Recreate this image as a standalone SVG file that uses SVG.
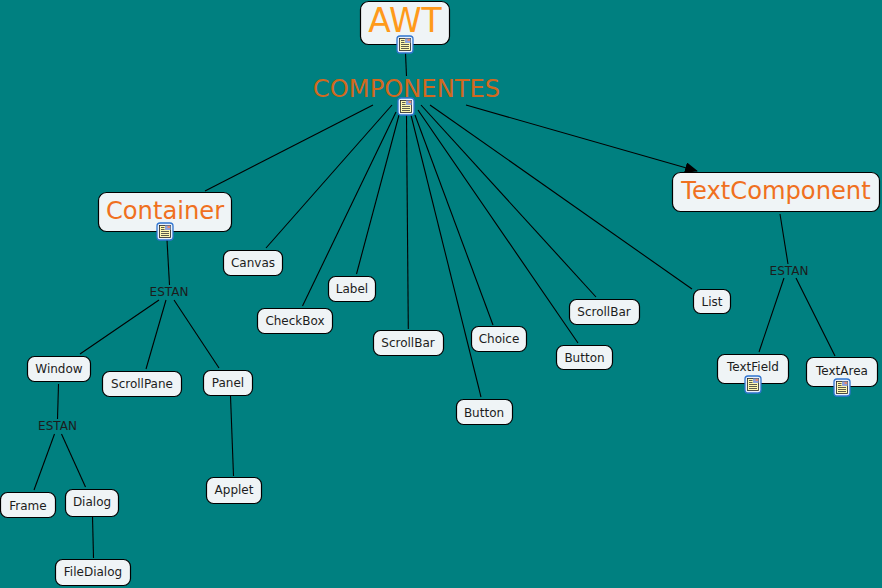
<svg xmlns="http://www.w3.org/2000/svg" width="882" height="588" viewBox="0 0 882 588">
<style>
text{font-family:"DejaVu Sans",Verdana,sans-serif;text-anchor:middle}
.n{fill:#eff4f6;stroke:#000;stroke-width:1.2}
.s{font-size:12px;fill:#1c1c1c}
.b{font-size:24.200px;fill:#f07020}
.c line{stroke:#000;stroke-width:1.1}
</style>
<defs>
<g id="ic">
<rect x="-8" y="-8" width="16" height="17" rx="3" fill="#eaf2fb" stroke="#2f74d0" stroke-width="1.300"/>
<rect x="-5.500" y="-5.500" width="11" height="12" fill="#fff8b0" stroke="#222" stroke-width=".8"/>
<path d="M-4 -3.500H-.5M-4 -1.500H-.5M-4 .5H4M-4 2.500H4M-4 4.500H4" stroke="#333" stroke-width=".8" fill="none"/>
<rect x="0" y="-5.500" width="5.500" height="4.500" fill="#8fa2dc"/>
<rect x="2.500" y="-5" width="2.500" height="2" fill="#e58a70"/>
</g>
<marker id="ar" markerWidth="13" markerHeight="11" refX="12" refY="5.500" orient="auto" markerUnits="userSpaceOnUse"><path d="M0 0L13 5.500L0 11z" fill="#000"/></marker>
</defs>
<rect width="882" height="588" fill="#008080"/>
<g id="connectors" class="c">
<line x1="405.500" y1="53" x2="406.500" y2="76"/>
<line x1="373" y1="105" x2="205" y2="191"/>
<line x1="392" y1="105" x2="266" y2="248"/>
<line x1="396" y1="112" x2="302.500" y2="306"/>
<line x1="399" y1="115" x2="356.500" y2="274"/>
<line x1="406.500" y1="115" x2="408.300" y2="329"/>
<line x1="411" y1="115" x2="481" y2="397"/>
<line x1="415" y1="115" x2="493" y2="325"/>
<line x1="418" y1="110" x2="578" y2="343"/>
<line x1="421" y1="105" x2="596" y2="297"/>
<line x1="430" y1="105" x2="692" y2="289"/>
<line x1="466" y1="105" x2="697" y2="171" marker-end="url(#ar)"/>
<line x1="167" y1="240" x2="169.500" y2="285"/>
<line x1="159" y1="300" x2="80" y2="354"/>
<line x1="166" y1="300" x2="146" y2="369"/>
<line x1="174" y1="300" x2="219" y2="368"/>
<line x1="58.500" y1="384" x2="57.500" y2="419"/>
<line x1="54.500" y1="434" x2="34" y2="490"/>
<line x1="61.500" y1="434" x2="85.500" y2="487"/>
<line x1="230.500" y1="396" x2="233.500" y2="476"/>
<line x1="92.500" y1="516" x2="93.500" y2="558"/>
<line x1="780" y1="214" x2="788" y2="264"/>
<line x1="784" y1="278" x2="759" y2="352"/>
<line x1="796" y1="278" x2="835" y2="356"/>
</g>
<g id="awt"><rect class="n" x="360.500" y="1.500" width="89" height="43" rx="8"/><text x="405" y="32" style="font-size:33px;fill:#ff9a1a">AWT</text><use href="#ic" x="405" y="44"/></g>
<g id="componentes"><text x="406.500" y="97" style="font-size:24.200px;fill:#d2691e">COMPONENTES</text><use href="#ic" x="406" y="106"/></g>
<g id="container"><rect class="n" x="98.500" y="192.500" width="133" height="39" rx="8"/><text class="b" x="165" y="219">Container</text><use href="#ic" x="165" y="231"/></g>
<g id="textcomponent"><rect class="n" x="672.500" y="172.500" width="207" height="39" rx="8"/><text class="b" x="776" y="199">TextComponent</text></g>
<g id="canvas"><rect class="n" x="223.500" y="250.500" width="59" height="25" rx="7"/><text class="s" x="253" y="267">Canvas</text></g>
<g id="checkbox"><rect class="n" x="257.500" y="308.500" width="75" height="25" rx="7"/><text class="s" x="295" y="325">CheckBox</text></g>
<g id="label"><rect class="n" x="328.500" y="276.500" width="47" height="25" rx="7"/><text class="s" x="352" y="293">Label</text></g>
<g id="scrollbar1"><rect class="n" x="373.500" y="330.500" width="70" height="25" rx="7"/><text class="s" x="408" y="347">ScrollBar</text></g>
<g id="button1"><rect class="n" x="456.500" y="399.500" width="56" height="25" rx="7"/><text class="s" x="484" y="417">Button</text></g>
<g id="choice"><rect class="n" x="471.500" y="326.500" width="55" height="25" rx="7"/><text class="s" x="499" y="343">Choice</text></g>
<g id="button2"><rect class="n" x="556.500" y="345.500" width="56" height="24" rx="7"/><text class="s" x="584.500" y="362">Button</text></g>
<g id="scrollbar2"><rect class="n" x="569.500" y="299.500" width="70" height="25" rx="7"/><text class="s" x="604" y="316">ScrollBar</text></g>
<g id="list"><rect class="n" x="693.500" y="289.500" width="37" height="24" rx="7"/><text class="s" x="712" y="306">List</text></g>
<g id="estan1"><text class="s" x="169" y="296">ESTAN</text></g>
<g id="window"><rect class="n" x="27.500" y="356.500" width="63" height="25" rx="7"/><text class="s" x="59" y="373">Window</text></g>
<g id="scrollpane"><rect class="n" x="102.500" y="371.500" width="79" height="25" rx="7"/><text class="s" x="142" y="388">ScrollPane</text></g>
<g id="panel"><rect class="n" x="203.500" y="370.500" width="49" height="25" rx="7"/><text class="s" x="228" y="387">Panel</text></g>
<g id="estan2"><text class="s" x="57.500" y="430">ESTAN</text></g>
<g id="applet"><rect class="n" x="206.500" y="477.500" width="55" height="26" rx="7"/><text class="s" x="234" y="494">Applet</text></g>
<g id="frame"><rect class="n" x="0.500" y="492.500" width="55" height="25" rx="7"/><text class="s" x="28" y="510">Frame</text></g>
<g id="dialog"><rect class="n" x="65.500" y="489.500" width="53" height="27" rx="7"/><text class="s" x="92" y="506">Dialog</text></g>
<g id="filedialog"><rect class="n" x="55.500" y="559.500" width="75" height="26" rx="7"/><text class="s" x="93" y="576">FileDialog</text></g>
<g id="estan3"><text class="s" x="789" y="275">ESTAN</text></g>
<g id="textfield"><rect class="n" x="717.500" y="354.500" width="71" height="29" rx="7"/><text class="s" x="753" y="371">TextField</text><use href="#ic" x="753" y="384"/></g>
<g id="textarea"><rect class="n" x="806.500" y="357.500" width="71" height="29" rx="7"/><text class="s" x="842" y="375">TextArea</text><use href="#ic" x="842" y="387"/></g>
</svg>
